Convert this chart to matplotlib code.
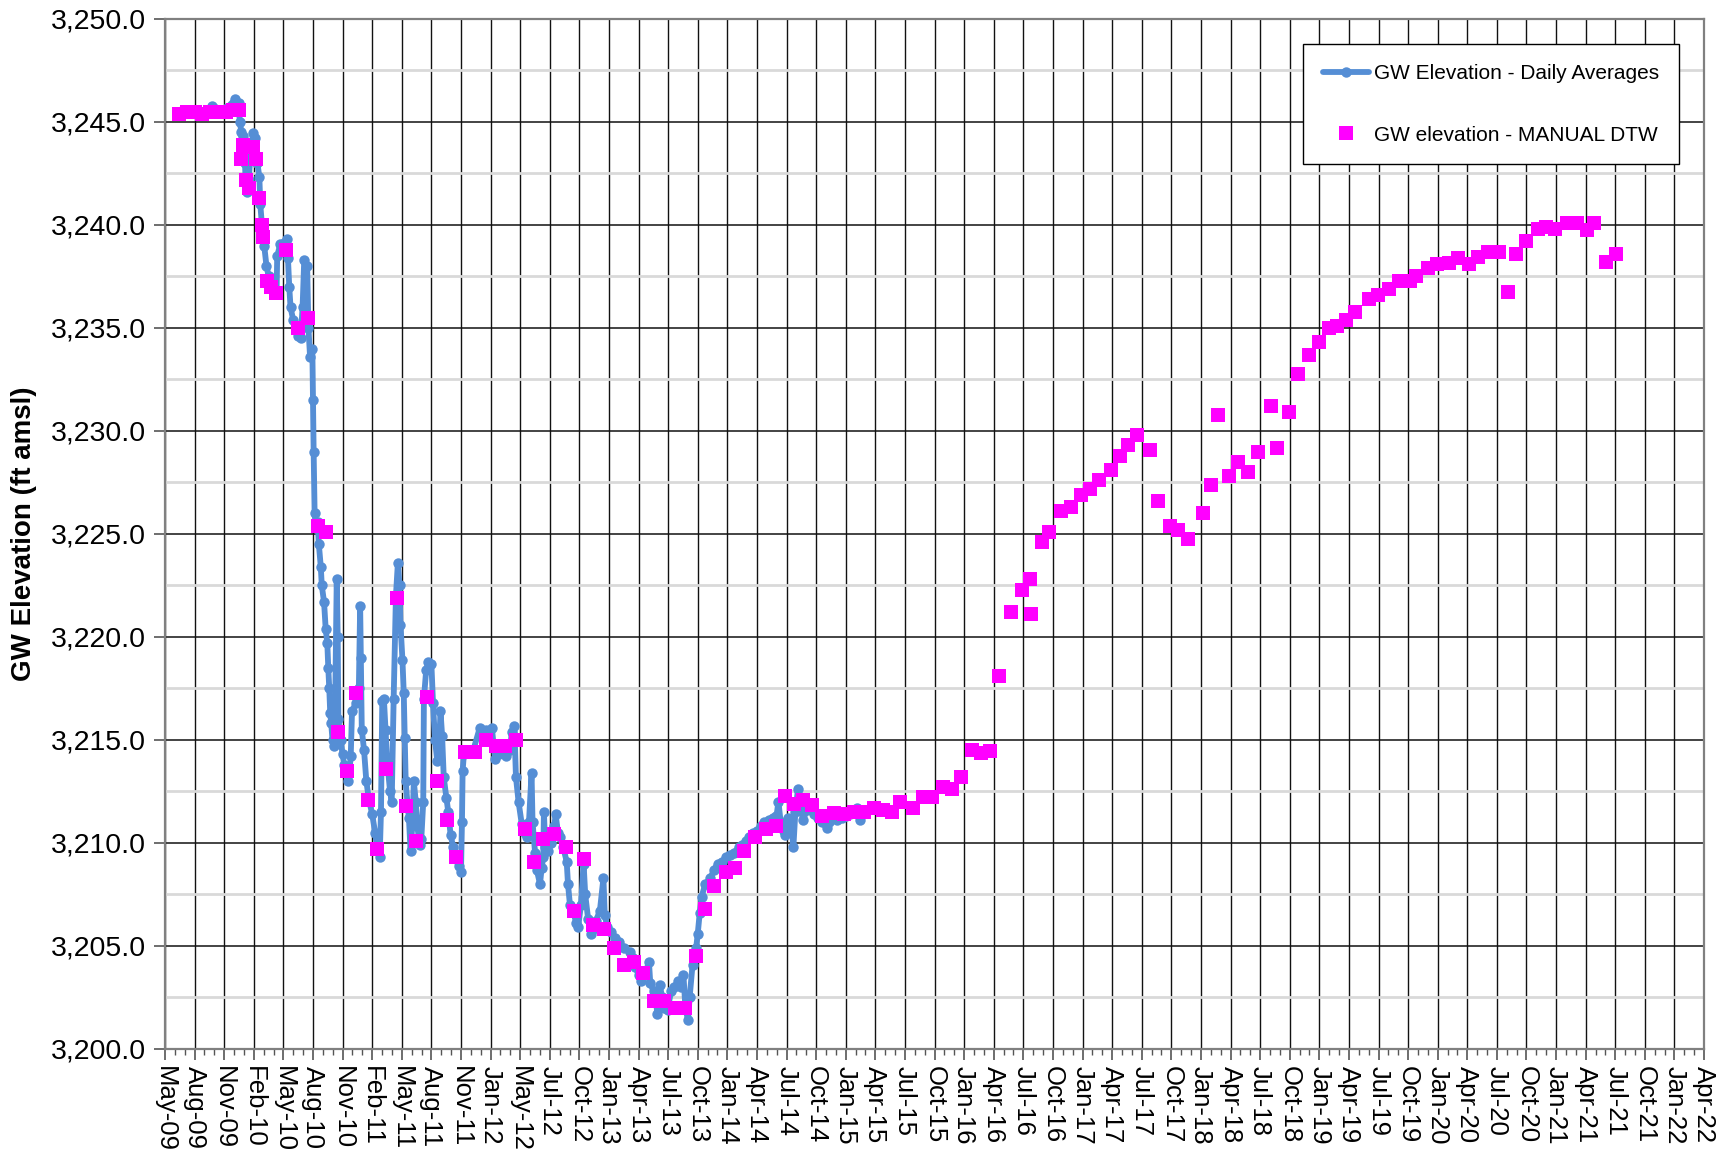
import matplotlib
matplotlib.use("Agg")
import matplotlib.pyplot as plt
import numpy as np
from matplotlib.ticker import MultipleLocator, FuncFormatter

plt.rcParams['font.family'] = ['Liberation Sans', 'DejaVu Sans']

# x values are days elapsed since 1 May 2009 (start of the axis)
tick_labels = ['May-09', 'Aug-09', 'Nov-09', 'Feb-10', 'May-10', 'Aug-10', 'Nov-10',
               'Feb-11', 'May-11', 'Aug-11', 'Nov-11', 'Jan-12', 'May-12', 'Jul-12',
               'Oct-12', 'Jan-13', 'Apr-13', 'Jul-13', 'Oct-13', 'Jan-14', 'Apr-14',
               'Jul-14', 'Oct-14', 'Jan-15', 'Apr-15', 'Jul-15', 'Oct-15', 'Jan-16',
               'Apr-16', 'Jul-16', 'Oct-16', 'Jan-17', 'Apr-17', 'Jul-17', 'Oct-17',
               'Jan-18', 'Apr-18', 'Jul-18', 'Oct-18', 'Jan-19', 'Apr-19', 'Jul-19',
               'Oct-19', 'Jan-20', 'Apr-20', 'Jul-20', 'Oct-20', 'Jan-21', 'Apr-21',
               'Jul-21', 'Oct-21', 'Jan-22', 'Apr-22']
tick_step_days = 91

# GW Elevation - Daily Averages (transducer)
daily_day = [40, 55, 82, 109, 137, 146, 173, 191, 216, 226, 230, 235, 241, 246, 248, 251,
             257, 264, 271, 278, 284, 290, 293, 298, 305, 312, 319, 328, 343, 345, 355, 374,
             378, 382, 386, 394, 402, 410, 417, 423, 428, 437, 441, 446, 453, 455, 457, 460,
             464, 469, 473, 479, 482, 489, 494, 499, 502, 505, 508, 511, 515, 519, 523, 528,
             531, 533, 540, 546, 551, 557, 564, 571, 575, 587, 596, 600, 602, 605, 612, 619,
             627, 637, 646, 652, 660, 664, 668, 673, 678, 683, 692, 697, 703, 710, 716, 721,
             724, 730, 734, 737, 740, 746, 750, 755, 761, 765, 771, 776, 783, 788, 794, 796,
             803, 810, 819, 824, 830, 837, 843, 847, 852, 857, 865, 871, 878, 886, 895, 904,
             910, 913, 915, 919, 946, 968, 987, 1005, 1010, 1015, 1028, 1047, 1061, 1066, 1074,
             1079, 1087, 1097, 1106, 1112, 1119, 1127, 1130, 1138, 1143, 1153, 1158, 1163, 1165,
             1169, 1178, 1188, 1197, 1201, 1208, 1215, 1224, 1235, 1239, 1245, 1254, 1265, 1270,
             1279, 1287, 1292, 1301, 1309, 1317, 1324, 1337, 1348, 1352, 1360, 1370, 1383, 1397,
             1411, 1430, 1438, 1446, 1456, 1462, 1474, 1488, 1492, 1502, 1507, 1514, 1521, 1529,
             1534, 1545, 1556, 1565, 1578, 1588, 1594, 1600, 1608, 1613, 1622, 1633, 1638, 1644,
             1650, 1661, 1677, 1688, 1699, 1711, 1726, 1738, 1748, 1764, 1775, 1786, 1797, 1808,
             1820, 1831, 1843, 1858, 1870, 1880, 1886, 1893, 1902, 1907, 1916, 1925, 1932, 1938,
             1946, 1952, 1962, 1973, 1984, 1995, 2007, 2020, 2034, 2043, 2050, 2066, 2083, 2093,
             2105, 2116, 2127, 2138, 2144, 2151]
daily_elev = [3245.5, 3245.6, 3245.6, 3245.5, 3245.6, 3245.8, 3245.6, 3245.7, 3246.1, 3245.9,
              3245.0, 3244.5, 3244.3, 3243.0, 3242.0, 3241.6, 3242.2, 3243.5, 3244.45, 3244.2,
              3243.0, 3242.35, 3241.0, 3240.0, 3239.0, 3238.0, 3237.5, 3237.0, 3236.7, 3238.5,
              3239.1, 3239.3, 3238.4, 3237.0, 3236.0, 3235.4, 3235.0, 3234.6, 3234.5, 3236.0,
              3238.3, 3238.0, 3235.0, 3233.6, 3234.0, 3231.5, 3229.0, 3226.0, 3225.3, 3225.6,
              3224.5, 3223.4, 3222.5, 3221.7, 3220.4, 3219.7, 3218.5, 3217.5, 3216.3, 3215.8,
              3215.0, 3214.7, 3216.5, 3222.8, 3220.0, 3216.0, 3215.0, 3214.3, 3213.8, 3213.4,
              3213.0, 3214.2, 3216.4, 3216.8, 3217.5, 3221.5, 3219.0, 3215.5, 3214.5, 3213.0,
              3212.1, 3211.4, 3210.5, 3209.8, 3209.3, 3211.5, 3216.9, 3217.0, 3215.5, 3214.0,
              3212.5, 3212.0, 3217.0, 3222.0, 3223.6, 3222.5, 3220.6, 3218.9, 3217.3, 3215.1,
              3213.0, 3211.8, 3211.2, 3209.6, 3211.0, 3213.0, 3212.0, 3210.8, 3209.9, 3210.2,
              3212.0, 3217.0, 3218.4, 3218.8, 3218.7, 3216.8, 3215.0, 3214.0, 3214.8, 3216.4,
              3215.2, 3213.2, 3212.2, 3211.5, 3210.4, 3209.8, 3209.2, 3208.9, 3208.6, 3211.0,
              3213.5, 3214.3, 3214.4, 3215.6, 3215.5, 3215.6, 3214.8, 3214.1, 3214.3, 3214.2,
              3214.5, 3215.4, 3215.7, 3213.2, 3212.0, 3210.9, 3210.5, 3210.3, 3211.0, 3213.4,
              3211.0, 3209.5, 3208.7, 3208.0, 3208.8, 3209.3, 3211.5, 3209.8, 3209.6, 3210.0,
              3210.8, 3211.4, 3210.5, 3210.3, 3209.8, 3209.1, 3208.0, 3207.0, 3206.7, 3206.1,
              3205.9, 3207.0, 3209.0, 3207.5, 3206.3, 3205.6, 3205.8, 3206.2, 3206.7, 3208.3,
              3206.5, 3205.9, 3205.7, 3205.4, 3205.2, 3204.9, 3204.7, 3204.4, 3204.0, 3203.6,
              3203.3, 3203.6, 3204.2, 3203.2, 3202.8, 3202.6, 3201.7, 3203.1, 3202.5, 3202.0,
              3201.9, 3202.8, 3203.0, 3203.3, 3203.0, 3203.6, 3202.0, 3201.4, 3202.5, 3204.1,
              3204.9, 3205.6, 3206.6, 3207.4, 3208.0, 3208.3, 3208.7, 3209.0, 3209.1, 3209.3,
              3209.4, 3209.5, 3209.8, 3209.9, 3210.1, 3210.3, 3210.5, 3210.6, 3210.8, 3211.0,
              3211.1, 3211.2, 3211.3, 3212.0, 3211.0, 3210.6, 3210.4, 3211.2, 3211.0, 3209.8,
              3211.5, 3212.6, 3211.8, 3211.1, 3211.6, 3211.7, 3211.4, 3211.2, 3211.0, 3210.75,
              3211.0, 3211.2, 3211.1, 3211.2, 3211.3, 3211.4, 3211.5, 3211.7, 3211.1, 3211.4,
              3211.6]

# GW elevation - MANUAL DTW
manual_day = [43, 68, 91, 114, 137, 162, 187, 209, 228, 233, 241, 249, 259, 271, 279, 290,
              298, 302, 315, 325, 341, 372, 410, 439, 470, 496, 533, 561, 587, 623, 652, 678,
              714, 741, 773, 806, 837, 868, 895, 923, 954, 987, 1017, 1045, 1078, 1107, 1134,
              1162, 1197, 1232, 1259, 1289, 1316, 1350, 1380, 1411, 1443, 1471, 1503, 1534,
              1569, 1600, 1633, 1661, 1688, 1724, 1754, 1779, 1814, 1847, 1880, 1906, 1935,
              1962, 1989, 2019, 2056, 2088, 2118, 2149, 2179, 2209, 2234, 2259, 2300, 2330,
              2357, 2391, 2421, 2448, 2480, 2508, 2537, 2564, 2600, 2634, 2660, 2664, 2695,
              2718, 2754, 2786, 2816, 2844, 2871, 2907, 2935, 2962, 2989, 3027, 3054, 3089,
              3116, 3145, 3192, 3216, 3237, 3272, 3299, 3329, 3362, 3399, 3419, 3455, 3483,
              3518, 3547, 3580, 3604, 3631, 3658, 3701, 3729, 3764, 3795, 3827, 3846, 3882,
              3912, 3947, 3974, 4008, 4038, 4067, 4101, 4128, 4155, 4185, 4221, 4245, 4275,
              4310, 4340, 4372, 4393, 4430, 4460]
manual_elev = [3245.4, 3245.5, 3245.5, 3245.4, 3245.5, 3245.5, 3245.5, 3245.6, 3245.6, 3243.2,
               3243.9, 3242.2, 3241.8, 3243.8, 3243.2, 3241.3, 3240.0, 3239.4, 3237.3, 3237.0,
               3236.7, 3238.8, 3235.0, 3235.5, 3225.4, 3225.1, 3215.4, 3213.5, 3217.3, 3212.1,
               3209.7, 3213.6, 3221.9, 3211.8, 3210.1, 3217.1, 3213.0, 3211.1, 3209.3, 3214.4,
               3214.4, 3215.0, 3214.7, 3214.7, 3215.0, 3210.7, 3209.1, 3210.2, 3210.45, 3209.8,
               3206.7, 3209.2, 3206.0, 3205.8, 3204.9, 3204.1, 3204.2, 3203.7, 3202.35, 3202.35,
               3202.0, 3202.0, 3204.5, 3206.8, 3207.9, 3208.6, 3208.8, 3209.6, 3210.3, 3210.7,
               3210.8, 3212.3, 3211.9, 3212.1, 3211.85, 3211.3, 3211.45, 3211.4, 3211.5, 3211.5,
               3211.7, 3211.6, 3211.5, 3212.0, 3211.7, 3212.25, 3212.25, 3212.7, 3212.6, 3213.2,
               3214.5, 3214.35, 3214.45, 3218.1, 3221.2, 3222.3, 3222.8, 3221.1, 3224.6, 3225.1,
               3226.1, 3226.3, 3226.9, 3227.2, 3227.6, 3228.1, 3228.8, 3229.3, 3229.8, 3229.1,
               3226.6, 3225.4, 3225.2, 3224.75, 3226.0, 3227.4, 3230.8, 3227.8, 3228.5, 3228.0,
               3229.0, 3231.2, 3229.15, 3230.9, 3232.75, 3233.7, 3234.3, 3235.0, 3235.1, 3235.4,
               3235.8, 3236.4, 3236.6, 3236.9, 3237.3, 3237.3, 3237.5, 3237.9, 3238.1, 3238.15,
               3238.4, 3238.1, 3238.45, 3238.7, 3238.7, 3236.75, 3238.6, 3239.2, 3239.8, 3239.9,
               3239.8, 3240.1, 3240.1, 3239.75, 3240.1, 3238.2, 3238.6]

fig = plt.figure(figsize=(17.26, 11.65), dpi=100)
ax = fig.add_axes([0.0956, 0.0996, 0.8917, 0.8841])

ax.plot(daily_day, daily_elev, color='#558ED5', lw=4.2, marker='o', markersize=7.5,
        markeredgewidth=0, solid_joinstyle='round', solid_capstyle='round',
        label='GW Elevation - Daily Averages', zorder=3)
ax.plot(manual_day, manual_elev, linestyle='none', color='#FF00FF', marker='s',
        markersize=9.5, markeredgewidth=0, label='GW elevation - MANUAL DTW', zorder=4)

n_ticks = len(tick_labels)
ax.set_xlim(0, (n_ticks - 1) * tick_step_days)
ax.set_xticks(np.arange(n_ticks) * tick_step_days)
ax.set_xticklabels(tick_labels, rotation=-90, fontsize=18.5, va='top', ha='center')
ax.xaxis.set_minor_locator(MultipleLocator(tick_step_days / 3))

ax.set_ylim(3200, 3250)
ax.yaxis.set_major_locator(MultipleLocator(5))
ax.yaxis.set_minor_locator(MultipleLocator(2.5))
ax.yaxis.set_major_formatter(FuncFormatter(lambda v, p: '{:,.1f}'.format(v)))
ax.tick_params(axis='y', which='major', labelsize=20.5, length=8, width=1.2, color='#555555', pad=6)
ax.tick_params(axis='y', which='minor', length=0)
ax.tick_params(axis='x', which='major', length=8, width=1.2, color='#555555', pad=4)
ax.tick_params(axis='x', which='minor', length=4, width=1.0, color='#555555')

ax.grid(which='minor', axis='y', color='#D9D9D9', lw=2, zorder=0)
ax.grid(which='major', axis='y', color='#111111', lw=1.1, zorder=1)
ax.grid(which='major', axis='x', color='#111111', lw=1.0, zorder=1)
ax.set_axisbelow(True)

for side in ['left', 'bottom', 'top', 'right']:
    ax.spines[side].set_color('#808080')
    ax.spines[side].set_linewidth(1.6)

ax.set_ylabel('GW Elevation (ft amsl)', fontsize=20, fontweight='bold', labelpad=10)

leg = ax.legend(loc='upper right', bbox_to_anchor=(0.9838, 0.9757), fontsize=15,
                frameon=True, fancybox=False, edgecolor='black', framealpha=1,
                borderaxespad=0, labelspacing=2.05, handlelength=2.2, handletextpad=0.25,
                borderpad=0.95)
leg.get_frame().set_linewidth(1.0)

fig.savefig('out.png', dpi=100)
